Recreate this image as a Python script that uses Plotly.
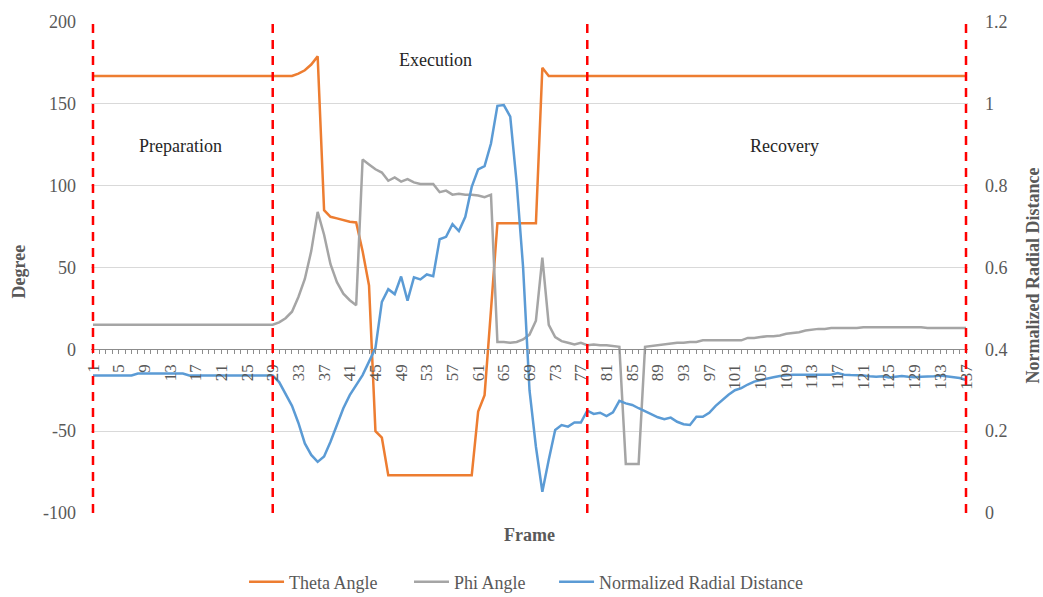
import plotly.graph_objects as go

# Frame index for every sample of the movement
frames = list(range(1, 138))

# Theta angle (degrees) per frame
theta_angle = [
    167, 167, 167, 167, 167, 167, 167, 167, 167, 167,
    167, 167, 167, 167, 167, 167, 167, 167, 167, 167,
    167, 167, 167, 167, 167, 167, 167, 167, 167, 167,
    167, 167, 168.5, 170.5, 174, 179, 85, 81, 80, 79,
    78, 77.5, 60, 39, -50, -54, -77, -77, -77, -77,
    -77, -77, -77, -77, -77, -77, -77, -77, -77, -77,
    -38, -28, 24, 77, 77, 77, 77, 77, 77, 77,
    172, 167, 167, 167, 167, 167, 167, 167, 167, 167,
    167, 167, 167, 167, 167, 167, 167, 167, 167, 167,
    167, 167, 167, 167, 167, 167, 167, 167, 167, 167,
    167, 167, 167, 167, 167, 167, 167, 167, 167, 167,
    167, 167, 167, 167, 167, 167, 167, 167, 167, 167,
    167, 167, 167, 167, 167, 167, 167, 167, 167, 167,
    167, 167, 167, 167, 167, 167, 167,
]

# Phi angle (degrees) per frame
phi_angle = [
    15, 15, 15, 15, 15, 15, 15, 15, 15, 15,
    15, 15, 15, 15, 15, 15, 15, 15, 15, 15,
    15, 15, 15, 15, 15, 15, 15, 15, 15, 16.5,
    19, 23, 32, 43, 60, 84, 70, 52, 41, 34,
    30, 27, 116, 113, 110, 108, 103, 105, 102.5, 104,
    102, 101, 101, 101, 96, 97, 94.5, 95, 94.5, 94.5,
    94, 93, 94.5, 4.5, 4.5, 4, 4.5, 6, 9, 17.5,
    56, 15, 7.5, 5, 4, 3, 4, 2.5, 3, 2.5,
    2.5, 2, 1.5, -70, -70, -70, 1.5, 2, 2.5, 3,
    3.5, 4, 4, 4.5, 4.5, 5.5, 5.5, 5.5, 5.5, 5.5,
    5.5, 5.5, 7, 7, 7.5, 8, 8, 8.5, 9.5, 10,
    10.5, 11.5, 12, 12.5, 12.5, 13, 13, 13, 13, 13,
    13.5, 13.5, 13.5, 13.5, 13.5, 13.5, 13.5, 13.5, 13.5, 13.5,
    13, 13, 13, 13, 13, 13, 13,
]

# Normalized radial distance per frame (secondary axis)
radial_distance = [
    0.336, 0.336, 0.336, 0.336, 0.336, 0.336, 0.336, 0.341, 0.341, 0.341,
    0.341, 0.341, 0.341, 0.341, 0.341, 0.336, 0.336, 0.336, 0.336, 0.336,
    0.336, 0.336, 0.336, 0.336, 0.336, 0.336, 0.336, 0.336, 0.336, 0.32,
    0.29, 0.262, 0.22, 0.17, 0.142, 0.125, 0.138, 0.174, 0.215, 0.256,
    0.288, 0.313, 0.337, 0.37, 0.403, 0.516, 0.547, 0.535, 0.578, 0.519,
    0.576, 0.571, 0.583, 0.579, 0.669, 0.675, 0.706, 0.689, 0.724, 0.797,
    0.84, 0.848, 0.903, 0.995, 0.997, 0.969, 0.807, 0.601, 0.3, 0.162,
    0.052, 0.13, 0.203, 0.215, 0.211, 0.221, 0.221, 0.25, 0.242, 0.245,
    0.237, 0.246, 0.274, 0.268, 0.264, 0.256, 0.248, 0.241, 0.234, 0.229,
    0.233, 0.223, 0.217, 0.215, 0.235, 0.235, 0.245, 0.262, 0.276, 0.289,
    0.3, 0.305, 0.314, 0.321, 0.325, 0.329, 0.332, 0.335, 0.337, 0.338,
    0.338, 0.338, 0.338, 0.338, 0.338, 0.338, 0.342, 0.338, 0.337, 0.337,
    0.336, 0.334, 0.333, 0.334, 0.331, 0.333, 0.335, 0.333, 0.332, 0.333,
    0.333, 0.334, 0.336, 0.334, 0.331, 0.33, 0.325,
]

# Frames that separate the movement phases
phase_bounds = [1, 29, 78, 137]
phase_names = ["Preparation", "Execution", "Recovery"]

# Left axis ticks (plain hyphen minus signs)
degree_ticks = [-100, -50, 0, 50, 100, 150, 200]
degree_labels = ["-100", "-50", "0", "50", "100", "150", "200"]

# Every frame gets a tick mark, every fourth frame a label
frame_labels = [str(f) if (f - 1) % 4 == 0 else "" for f in frames]

SERIF = "Liberation Serif"
TXT = "#595959"
ORANGE = "#ED7D31"
GRAY = "#A5A5A5"
BLUE = "#5B9BD5"

fig = go.Figure()
fig.add_trace(go.Scatter(x=frames, y=theta_angle, name="Theta Angle", mode="lines",
                         line=dict(color=ORANGE, width=2.5), legend="legend"))
fig.add_trace(go.Scatter(x=frames, y=phi_angle, name="Phi Angle", mode="lines",
                         line=dict(color=GRAY, width=2.5), legend="legend2"))
fig.add_trace(go.Scatter(x=frames, y=radial_distance, name="Normalized Radial Distance",
                         mode="lines", line=dict(color=BLUE, width=2.5),
                         yaxis="y2", legend="legend3"))

# Dashed phase boundaries
for b in phase_bounds:
    fig.add_shape(type="line", xref="x", yref="paper", x0=b, x1=b, y0=0, y1=1,
                  line=dict(color="#FF0000", width=2.5, dash="9px,7px"), layer="above")

# Phase names
phase_text_pos = [(14.7, 124), (54.4, 176.5), (108.8, 124)]
for name, (px, py) in zip(phase_names, phase_text_pos):
    fig.add_annotation(x=px, y=py, xref="x", yref="y", text=name, showarrow=False,
                       font=dict(family=SERIF, size=18, color="#262626"))

# Axis titles
fig.add_annotation(x=0.5, y=-0.045, xref="paper", yref="paper", text="<b>Frame</b>",
                   showarrow=False, yanchor="middle",
                   font=dict(family=SERIF, size=18, color=TXT))
fig.add_annotation(x=0, y=0.5, xref="paper", yref="paper", text="<b>Degree</b>",
                   showarrow=False, textangle=-90, xanchor="center", yanchor="middle",
                   xshift=-73, yshift=-4,
                   font=dict(family=SERIF, size=18, color=TXT))
fig.add_annotation(x=1, y=0.5, xref="paper", yref="paper",
                   text="<b>Normalized Radial Distance</b>",
                   showarrow=False, textangle=-90, xanchor="center", yanchor="middle",
                   xshift=64, yshift=-8,
                   font=dict(family=SERIF, size=18, color=TXT))

x_range = [0.69, 137.31]
zero_pos = 1 / 3  # y = 0 on the degree axis

legend_common = dict(orientation="h", yanchor="middle", y=-0.1405, xanchor="left",
                     font=dict(family=SERIF, size=18, color=TXT),
                     bgcolor="rgba(0,0,0,0)", itemwidth=35)

fig.update_layout(
    width=1043, height=597,
    margin=dict(l=91, r=75, t=22, b=84, autoexpand=False),
    paper_bgcolor="white", plot_bgcolor="white",
    font=dict(family=SERIF, size=18, color=TXT),
    showlegend=True,
    legend=dict(legend_common, x=0.1745),
    legend2=dict(legend_common, x=0.3626),
    legend3=dict(legend_common, x=0.528),
    xaxis=dict(
        range=x_range, anchor="free", position=zero_pos,
        tickmode="array", tickvals=frames, ticktext=frame_labels,
        ticks="outside", ticklen=4, tickwidth=1, tickcolor="#8C8C8C",
        showline=True, linecolor="#8C8C8C", linewidth=1,
        showgrid=False, zeroline=False, tickangle=-90,
        tickfont=dict(family=SERIF, size=17, color=TXT),
        ticklabelstandoff=3,
    ),
    xaxis2=dict(
        range=x_range, overlaying="x", anchor="free", position=zero_pos,
        tickmode="array", tickvals=frames, ticktext=[""] * len(frames),
        ticks="inside", ticklen=4, tickwidth=1, tickcolor="#8C8C8C",
        showline=False, showgrid=False, zeroline=False, showticklabels=False,
    ),
    yaxis=dict(
        range=[-100, 200], tickmode="array", tickvals=degree_ticks, ticktext=degree_labels,
        showgrid=True, gridcolor="#D9D9D9", gridwidth=1, zeroline=False,
        showline=False, ticks="", ticklabelstandoff=14,
        tickfont=dict(family=SERIF, size=18, color=TXT),
    ),
    yaxis2=dict(
        range=[0, 1.2], dtick=0.2, overlaying="y", side="right",
        showgrid=False, zeroline=False, showline=False, ticks="",
        ticklabelstandoff=16,
        tickfont=dict(family=SERIF, size=18, color=TXT),
    ),
)

fig.write_html("out.html")
